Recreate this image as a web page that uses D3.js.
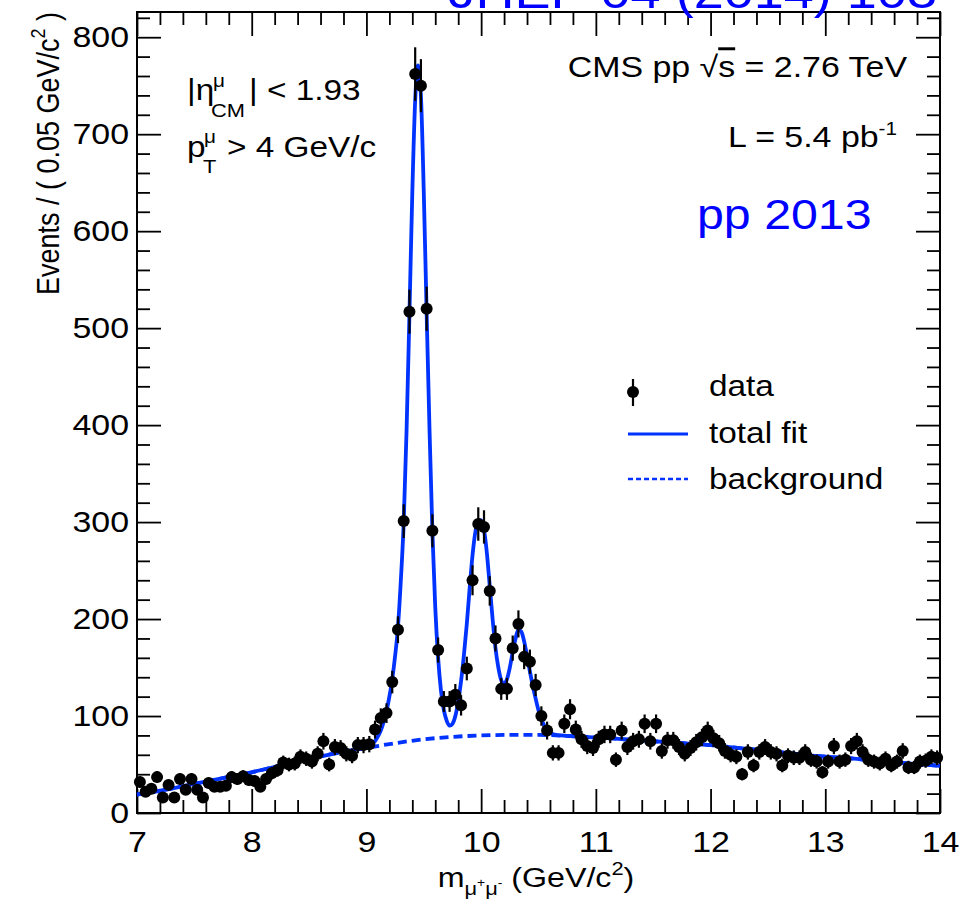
<!DOCTYPE html>
<html>
<head>
<meta charset="utf-8">
<script src="https://cdn.jsdelivr.net/npm/d3@7"></script>
<style>
  body { margin: 0; background: #fff; }
  svg { display: block; }
  text { font-family: "Liberation Sans", Arial, Helvetica, sans-serif; fill: #000; }
</style>
</head>
<body>
<svg id="chart" width="971" height="899"></svg>
<script>
// dimuon mass spectrum, 0.05 GeV/c2 bins from 7 to 14
const binLow = 7, binWidth = 0.05;
const counts = [
  32, 22, 25, 37, 16, 29, 16, 35, 24, 35,
  24, 16, 31, 27, 27, 28, 37, 35, 38, 34,
  33, 27, 35, 41, 44, 52, 50, 51, 58, 56,
  53, 61, 74, 50, 68, 67, 61, 59, 70, 70,
  71, 86, 98, 103, 135, 189, 301, 517, 762, 750,
  520, 291, 168, 115, 115, 122, 111, 149, 240, 298,
  295, 229, 180, 128, 128, 170, 195, 161, 156, 132,
  100, 85, 62, 62, 92, 107, 86, 76, 69, 67,
  76, 81, 81, 55, 85, 68, 74, 76, 92, 74,
  92, 64, 75, 75, 68, 61, 67, 73, 78, 85,
  77, 72, 64, 60, 58, 40, 63, 49, 63, 68,
  63, 61, 49, 59, 57, 57, 63, 55, 53, 42,
  53, 69, 53, 55, 69, 74, 63, 55, 53, 51,
  56, 49, 53, 64, 47, 47, 53, 54, 58, 57
];

// total fit curve
const fitMass = [
  7.0, 7.25, 7.5, 7.75, 8.0, 8.25, 8.5, 8.75,
  9.000, 9.025, 9.050, 9.075, 9.100, 9.125, 9.150, 9.175, 9.200, 9.225,
  9.250, 9.275, 9.300, 9.325, 9.350, 9.375, 9.400, 9.425, 9.450, 9.475,
  9.500, 9.525, 9.550, 9.575, 9.600, 9.625, 9.650, 9.675, 9.700, 9.725,
  9.750, 9.775, 9.800, 9.825, 9.850, 9.875, 9.900, 9.925, 9.950, 9.975,
  10.000, 10.025, 10.050, 10.075, 10.100, 10.125, 10.150, 10.175, 10.200, 10.225,
  10.250, 10.275, 10.300, 10.325, 10.350, 10.375, 10.400, 10.425, 10.450, 10.475,
  10.500, 10.525, 10.550, 10.575, 10.600, 10.650, 10.700,
  10.75, 11.0, 11.25, 11.5, 11.75, 12.0, 12.25, 12.5, 12.75, 13.0, 13.25, 13.5, 13.75, 14.0
];
const fitTotal = [
  19, 24, 30, 36, 42, 49, 56, 62,
  68, 69, 71, 74, 79, 85, 94, 105, 120, 138,
  162, 192, 240, 300, 395, 515, 640, 735, 771, 740,
  640, 515, 395, 290, 212, 160, 126, 106, 95, 90,
  92, 100, 115, 136, 163, 195, 232, 266, 290, 301,
  302, 292, 268, 234, 200, 170, 150, 137, 133, 138,
  150, 166, 180, 189, 187, 177, 162, 146, 131, 118,
  106, 97, 90, 86, 83, 80.5, 80,
  79.5, 78, 76, 74, 72, 70, 67, 64, 61, 58, 56, 53, 51, 48.5
];

// background component
const bkgMass = [
  7.0, 7.25, 7.5, 7.75, 8.0, 8.25, 8.5, 8.75, 9.0, 9.25,
  9.5, 9.75, 10.0, 10.25, 10.5, 10.75, 11.0, 11.25, 11.5, 11.75,
  12.0, 12.25, 12.5, 12.75, 13.0, 13.25, 13.5, 13.75, 14.0
];
const bkgValues = [
  19, 24, 30, 36, 42, 49, 56, 62, 67, 72,
  76, 78.5, 80, 80.5, 80.5, 79.5, 78, 76, 74, 72,
  70, 67, 64, 61, 58, 56, 53, 51, 48.5
];

const xTicks = [7, 8, 9, 10, 11, 12, 13, 14];
const yTicks = [0, 100, 200, 300, 400, 500, 600, 700, 800];
const legendLabels = ['data', 'total fit', 'background'];

const svg = d3.select('#chart');
const pLeft = 137, pRight = 940, pTop = 12, pBottom = 813;
const blue = '#0033ff';
const sx = 1.15;   // glyphs in the picture are a bit wide

const x = d3.scaleLinear().domain([7, 14]).range([pLeft, pRight]);
const y = d3.scaleLinear().domain([0, 826]).range([pBottom, pTop]);

const xMinor = d3.range(7, 14.001, 0.2).filter(v => Math.abs(v - Math.round(v)) > 1e-6);
const yMinor = d3.range(0, 826, 20).filter(v => v % 100 !== 0);

function addAxis(axisFn, major, minor, scale, transform, labelled) {
  const g = svg.append('g').attr('transform', transform);
  g.append('g').call(axisFn(scale).tickValues(minor).tickSize(-13).tickFormat(''));
  const m = g.append('g').call(axisFn(scale).tickValues(major).tickSize(-24)
    .tickPadding(labelled ? 18 : 0).tickFormat(labelled ? d3.format('d') : ''));
  g.selectAll('.domain').remove();
  g.selectAll('g').attr('font-family', null).attr('font-size', 29.5);
  g.selectAll('line').attr('stroke-width', 1.8);
  return m;
}

const yl = addAxis(d3.axisLeft, yTicks, yMinor, y, `translate(${pLeft},0)`, true);
yl.selectAll('text').attr('x', -8 / sx).attr('transform', `scale(${sx},1)`);
addAxis(d3.axisRight, yTicks, yMinor, y, `translate(${pRight},0)`, false);
const xb = addAxis(d3.axisBottom, xTicks, xMinor, x, `translate(0,${pBottom})`, true);
xb.selectAll('text').attr('transform', `scale(${sx},1)`);
addAxis(d3.axisTop, xTicks, xMinor, x, `translate(0,${pTop})`, false);

svg.append('rect')
  .attr('x', pLeft).attr('y', pTop)
  .attr('width', pRight - pLeft).attr('height', pBottom - pTop)
  .attr('fill', 'none').attr('stroke', '#000').attr('stroke-width', 2);

// curves
const bkgLine = d3.line().x((d, i) => x(bkgMass[i])).y(d => y(d)).curve(d3.curveMonotoneX);
const fitLine = d3.line().x((d, i) => x(fitMass[i])).y(d => y(d)).curve(d3.curveMonotoneX);

svg.append('path').attr('d', fitLine(fitTotal))
  .attr('fill', 'none').attr('stroke', blue).attr('stroke-width', 3.8);
svg.append('path').attr('d', bkgLine(bkgValues))
  .attr('fill', 'none').attr('stroke', blue).attr('stroke-width', 3.8)
  .attr('stroke-dasharray', '9,5');

// data points with sqrt(N) errors
const pts = counts.map((c, i) => ({ m: binLow + binWidth * (i + 0.5), c: c }));
const dg = svg.append('g');
dg.selectAll('line').data(pts).enter().append('line')
  .attr('x1', d => x(d.m)).attr('x2', d => x(d.m))
  .attr('y1', d => y(d.c - Math.sqrt(d.c))).attr('y2', d => y(d.c + Math.sqrt(d.c)))
  .attr('stroke', '#000').attr('stroke-width', 2.2);
dg.selectAll('circle').data(pts).enter().append('circle')
  .attr('cx', d => x(d.m)).attr('cy', d => y(d.c)).attr('r', 6).attr('fill', '#000');

// text helper, stretched horizontally like the picture
function label(px, py, size, anchor, color) {
  return svg.append('text')
    .attr('transform', `translate(${px},${py}) scale(${sx},1)`)
    .attr('font-size', size).attr('text-anchor', anchor || 'start')
    .style('fill', color || '#000');
}

// cuts
label(187, 100, 29).text('|\u03b7');
label(213, 87, 18).text('\u03bc');
label(211, 117, 19).text('CM');
label(249, 100, 29).text('| < 1.93');
label(187, 157, 29).text('p');
label(204, 143, 18).text('\u03bc');
label(203, 173, 19).text('T');
label(227, 157, 29).text('> 4 GeV/c');

// header texts
const cms = label(907, 77, 29.5, 'end');
cms.append('tspan').text('CMS pp  \u221a');
cms.append('tspan').text('s').style('text-decoration', 'overline');
cms.append('tspan').text(' = 2.76 TeV');

const lum = label(897, 147, 29.5, 'end');
lum.append('tspan').text('L = 5.4 pb');
lum.append('tspan').attr('font-size', 18).attr('dy', -12).text('-1');

label(697, 229, 42, 'start', '#0000ff').text('pp 2013');
label(937, 8, 47, 'end', '#0000ff').text('JHEP 04 (2014) 103');

// legend
const lg = svg.append('g');
lg.append('line').attr('x1', 633).attr('x2', 633).attr('y1', 379).attr('y2', 406)
  .attr('stroke', '#000').attr('stroke-width', 2.2);
lg.append('circle').attr('cx', 633).attr('cy', 392).attr('r', 6).attr('fill', '#000');
lg.append('line').attr('x1', 628).attr('x2', 688).attr('y1', 434).attr('y2', 434)
  .attr('stroke', blue).attr('stroke-width', 3);
lg.append('line').attr('x1', 628).attr('x2', 688).attr('y1', 479).attr('y2', 479)
  .attr('stroke', blue).attr('stroke-width', 2.5).attr('stroke-dasharray', '5,3');
[396, 443, 489].forEach((py, i) => label(709, py, 29).text(legendLabels[i]));

// axis titles
const xt = label(536, 887, 28, 'middle');
xt.append('tspan').text('m');
xt.append('tspan').attr('font-size', 19).attr('dy', 8).text('\u03bc');
xt.append('tspan').attr('font-size', 12).attr('dy', -8).text('+');
xt.append('tspan').attr('font-size', 19).attr('dy', 8).text('\u03bc');
xt.append('tspan').attr('font-size', 12).attr('dy', -8).text('-');
xt.append('tspan').text(' (GeV/c');
xt.append('tspan').attr('font-size', 19).attr('dy', -12).text('2');
xt.append('tspan').attr('dy', 12).text(')');

const yt = svg.append('text')
  .attr('transform', `translate(59,12) scale(1,1) rotate(-90) scale(1,${sx})`)
  .attr('font-size', 27).attr('text-anchor', 'end');
yt.append('tspan').text('Events / ( 0.05 GeV/c');
yt.append('tspan').attr('font-size', 18).attr('dy', -12).text('2');
yt.append('tspan').attr('dy', 12).text(' )');
</script>
</body>
</html>
